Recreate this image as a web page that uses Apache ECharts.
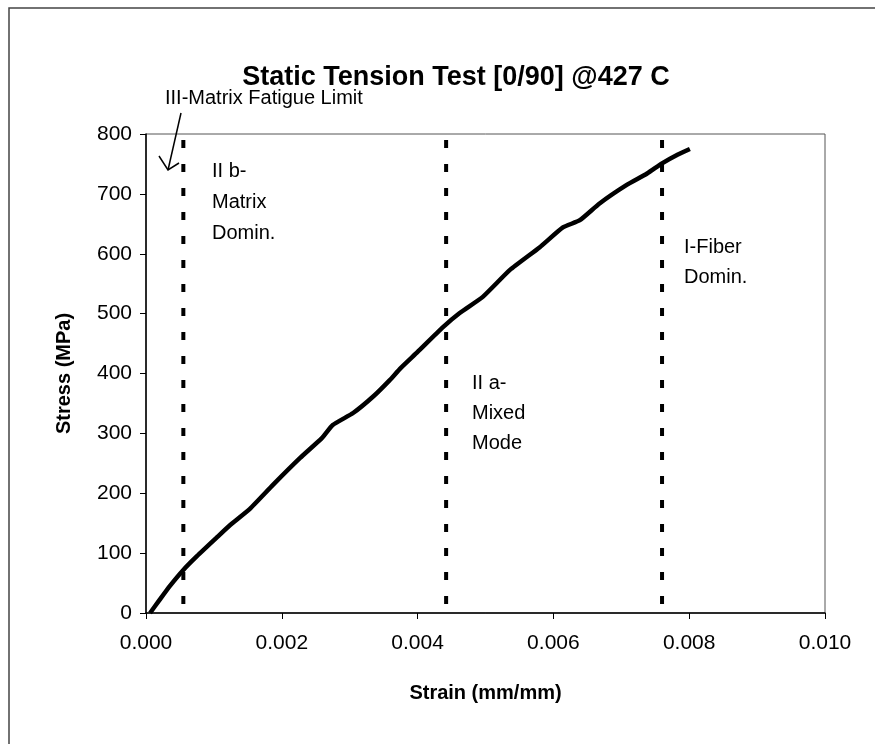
<!DOCTYPE html>
<html>
<head>
<meta charset="utf-8">
<script src="https://cdn.jsdelivr.net/npm/echarts@6/dist/echarts.min.js"></script>
<style>
  html, body { margin: 0; padding: 0; background: #fff; }
  #chart { width: 875px; height: 744px; }
</style>
</head>
<body>
<div id="chart"></div>
<script>
// stress-strain curve
const strain = [0.00006, 0.0002, 0.00035, 0.00055, 0.00075, 0.00105, 0.00124, 0.00153, 0.00187, 0.00227,
                0.00259, 0.00275, 0.00305, 0.00335, 0.00359, 0.00375, 0.0040, 0.00437, 0.00462, 0.00496,
                0.00536, 0.0058, 0.00614, 0.00639, 0.00668, 0.00708, 0.00738, 0.0076, 0.00782, 0.00801];
const stress = [0, 22, 45, 72, 95, 127, 147, 174, 214, 259,
                292, 314, 334, 362, 389, 409, 436, 477, 501, 528,
                573, 611, 644, 656, 684, 715, 734, 751, 765, 775];

// regime boundaries (vertical dashed lines)
const boundaryStrain = [0.00055, 0.00442, 0.0076];

const yMax = 800;

const FONT = "'Liberation Sans', Arial, sans-serif";

const chart = echarts.init(document.getElementById('chart'));

const curveData = strain.map((x, i) => [x, stress[i]]);

const boundarySeries = boundaryStrain.map(x => ({
    type: 'line',
    data: [[x, yMax], [x, 0]],
    symbol: 'none',
    silent: true,
    lineStyle: { color: '#000', width: 4, type: [8, 16], dashOffset: 18 },
    z: 2
}));

function textLines(x, y, lines, gap) {
    return lines.map((t, i) => ({
        type: 'text',
        x: x,
        y: y + i * gap,
        style: { text: t, font: '20px ' + FONT, fill: '#000', textVerticalAlign: 'middle' }
    }));
}

const option = {
    animation: false,
    backgroundColor: '#fff',
    grid: { left: 146, top: 134, width: 679, height: 479, show: true, borderColor: '#555', borderWidth: 1 },
    xAxis: {
        type: 'value',
        min: 0,
        max: 0.01,
        interval: 0.002,
        name: 'Strain (mm/mm)',
        nameLocation: 'middle',
        nameGap: 70,
        nameTextStyle: { fontFamily: FONT, fontSize: 20, fontWeight: 'bold', color: '#000' },
        axisLine: { lineStyle: { color: '#000', width: 1.5 } },
        axisTick: { show: true, length: 6, lineStyle: { color: '#000' } },
        axisLabel: {
            fontFamily: FONT, fontSize: 21, color: '#000', margin: 20,
            formatter: v => v.toFixed(3)
        },
        splitLine: { show: false }
    },
    yAxis: {
        type: 'value',
        min: 0,
        max: yMax,
        interval: 100,
        name: 'Stress (MPa)',
        nameLocation: 'middle',
        nameGap: 72,
        nameTextStyle: { fontFamily: FONT, fontSize: 20, fontWeight: 'bold', color: '#000' },
        axisLine: { show: true, lineStyle: { color: '#000', width: 1.5 } },
        axisTick: { show: true, length: 6, lineStyle: { color: '#000' } },
        axisLabel: { fontFamily: FONT, fontSize: 21, color: '#000', margin: 14 },
        splitLine: { show: false }
    },
    series: [
        ...boundarySeries,
        {
            type: 'line',
            data: curveData,
            symbol: 'none',
            smooth: 0.15,
            lineStyle: { color: '#000', width: 4.5 },
            z: 3
        }
    ],
    graphic: [
        {
            type: 'rect',
            shape: { x: 9, y: 8, width: 900, height: 800 },
            style: { fill: 'none', stroke: '#444', lineWidth: 1.5 },
            silent: true
        },
        {
            type: 'text',
            x: 456,
            y: 78,
            style: {
                text: 'Static Tension Test [0/90] @427 C',
                font: 'bold 27px ' + FONT, fill: '#000',
                textAlign: 'center', textVerticalAlign: 'middle'
            }
        },
        {
            type: 'text',
            x: 165,
            y: 98,
            style: { text: 'III-Matrix Fatigue Limit', font: '20px ' + FONT, fill: '#000', textVerticalAlign: 'middle' }
        },
        {
            type: 'polyline',
            shape: { points: [[181, 113], [168, 170]] },
            style: { stroke: '#000', lineWidth: 1.5, fill: 'none' }
        },
        {
            type: 'polyline',
            shape: { points: [[159, 156], [168, 170], [179, 163]] },
            style: { stroke: '#000', lineWidth: 1.5, fill: 'none' }
        },
        ...textLines(212, 171, ['II b-', 'Matrix', 'Domin.'], 31),
        ...textLines(472, 383, ['II a-', 'Mixed', 'Mode'], 30),
        ...textLines(684, 247, ['I-Fiber', 'Domin.'], 30)
    ]
};

chart.setOption(option);
</script>
</body>
</html>
